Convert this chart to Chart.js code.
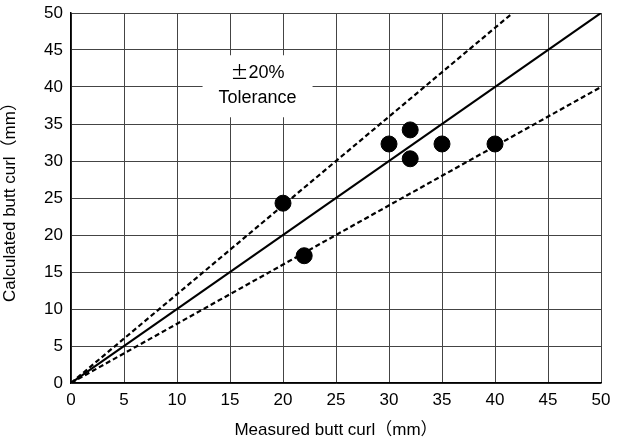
<!DOCTYPE html>
<html><head><meta charset="utf-8">
<script src="https://cdn.jsdelivr.net/npm/chart.js@4/dist/chart.umd.min.js"></script>
<style>html,body{margin:0;padding:0;background:#fff}#w{width:627px;height:441px}</style>
</head><body><div id="w"><canvas id="c"></canvas></div>
<script>
const measured = [20, 22, 30, 32, 32, 35, 40];
const calculated = [24.3, 17.2, 32.3, 34.2, 30.3, 32.3, 32.3];
const axisTicks = [0, 5, 10, 15, 20, 25, 30, 35, 40, 45, 50];
const refLine = [[0, 0], [50, 50]];
const upperLine = [[0, 0], [50 / 1.2, 50]];
const lowerLine = [[0, 0], [50, 40]];
const xTitle = 'Measured butt curl（mm）';
const yTitle = 'Calculated butt curl（mm）';
const notePM = '±';
const noteLines = ['20%', 'Tolerance'];
const notePos = [17.6, 40.1];

const toXY = a => a.map(p => ({x: p[0], y: p[1]}));
const FONT = "'Liberation Sans', Arial, 'Noto Sans CJK JP', sans-serif";
const CJK = "'Noto Sans CJK JP', sans-serif";

const notePlugin = {
  id: 'note',
  beforeDatasetsDraw(chart) {
    const {ctx, scales: {x, y}} = chart;
    const cx = x.getPixelForValue(notePos[0]);
    const cy = y.getPixelForValue(notePos[1]);
    ctx.save();
    ctx.fillStyle = '#fff';
    ctx.fillRect(cx - 55, cy - 31, 110, 62);
    ctx.fillStyle = '#000';
    ctx.textBaseline = 'middle';
    ctx.textAlign = 'left';
    ctx.font = '18px ' + CJK;
    const w1 = ctx.measureText(notePM).width;
    ctx.font = '18px ' + FONT;
    const w2 = ctx.measureText(noteLines[0]).width;
    const sx = cx - (w1 + w2) / 2;
    ctx.font = '18px ' + CJK;
    ctx.fillText(notePM, sx, cy - 14);
    ctx.font = '18px ' + FONT;
    ctx.fillText(noteLines[0], sx + w1, cy - 13);
    ctx.textAlign = 'center';
    ctx.fillText(noteLines[1], cx, cy + 12);
    ctx.restore();
  }
};

const lineDs = (data, dash) => ({
  type: 'line', data: toXY(data), borderColor: '#000', borderWidth: 2.2,
  borderDash: dash, pointRadius: 0, fill: false, tension: 0
});

new Chart(document.getElementById('c'), {
  type: 'scatter',
  data: {
    datasets: [
      lineDs(refLine, []),
      lineDs(upperLine, [5, 3]),
      lineDs(lowerLine, [5, 3]),
      {
        data: measured.map((m, i) => ({x: m, y: calculated[i]})),
        backgroundColor: '#000', borderColor: '#000', pointRadius: 8, pointHoverRadius: 8
      }
    ]
  },
  options: {
    responsive: true, maintainAspectRatio: false, animation: false,
    layout: {padding: {top: 13, right: 26, left: 0, bottom: 0}},
    plugins: {legend: {display: false}, tooltip: {enabled: false}},
    scales: {
      x: {
        type: 'linear', min: 0, max: 50,
        afterBuildTicks: s => { s.ticks = axisTicks.map(v => ({value: v})); },
        afterFit: s => { s.height = 58; s.paddingLeft = 0; s.paddingRight = 0; },
        grid: {color: '#444', lineWidth: 1, drawTicks: false},
        border: {color: '#000', width: 1.5},
        ticks: {color: '#000', font: {family: FONT, size: 17}, padding: 7, maxRotation: 0},
        title: {display: true, text: xTitle, color: '#000', font: {family: FONT, size: 17}, padding: {top: 2, bottom: 0}}
      },
      y: {
        type: 'linear', min: 0, max: 50,
        afterBuildTicks: s => { s.ticks = axisTicks.map(v => ({value: v})); },
        afterFit: s => { s.width = 71; s.paddingTop = 0; s.paddingBottom = 0; },
        grid: {color: '#444', lineWidth: 1, drawTicks: false},
        border: {color: '#000', width: 1.5},
        ticks: {color: '#000', font: {family: FONT, size: 17}, padding: 8},
        title: {display: true, text: yTitle, color: '#000', font: {family: FONT, size: 17}, padding: {top: 0, bottom: 2}}
      }
    }
  },
  plugins: [notePlugin]
});
</script>
</body></html>
